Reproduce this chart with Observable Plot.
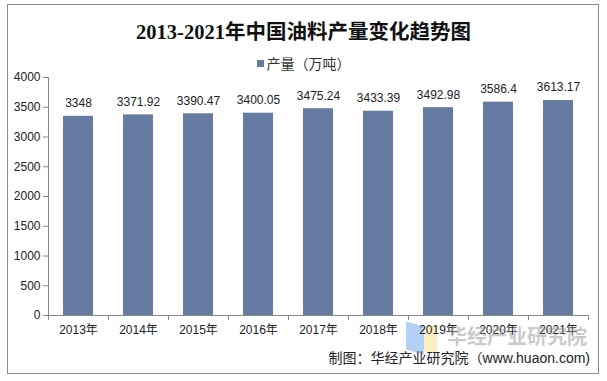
<!DOCTYPE html>
<html><head><meta charset="utf-8">
<script src="https://cdn.jsdelivr.net/npm/d3@7"></script>
<script src="https://cdn.jsdelivr.net/npm/@observablehq/plot@0.6"></script>
<style>
body{margin:0;background:#fff;}
#wrap{position:relative;width:607px;height:381px;overflow:hidden;font-family:"Liberation Sans","Noto Sans CJK SC",sans-serif;}
#border{position:absolute;left:7px;top:4px;width:592px;height:370px;border:1px solid #8c8c8c;box-sizing:border-box;}
#title{position:absolute;left:0;width:607px;top:15px;text-align:center;font-family:"Liberation Serif","Noto Sans CJK SC",serif;font-size:20.5px;font-weight:bold;color:#111;}
#legend{position:absolute;left:0;width:607px;top:53px;text-align:center;font-size:14px;color:#333;}
#legend span.sw{display:inline-block;width:7px;height:7px;background:#667ba1;margin-right:3px;vertical-align:2px;}
#plot{position:absolute;left:0;top:0;}
#wm{position:absolute;left:447px;top:321px;font-size:20px;font-weight:bold;color:rgba(150,150,150,0.5);font-family:"Noto Sans CJK SC",sans-serif;}
#logo1{position:absolute;left:406px;top:324px;width:18px;height:28px;background:rgba(120,170,240,0.55);transform:skewY(15deg);}
#logo2{position:absolute;left:424px;top:326px;width:13px;height:26px;background:rgba(250,230,150,0.6);}
#src{position:absolute;right:17px;top:347px;font-size:14px;color:#222;}
</style></head>
<body><div id="wrap">
<div id="border"></div>
<div id="logo1"></div><div id="logo2"></div>
<div id="title">2013-2021年中国油料产量变化趋势图</div>
<div id="legend"><span class="sw"></span>产量（万吨）</div>
<div id="plot"></div>
<div id="wm">华经产业研究院</div>
<div id="src">制图：华经产业研究院（www.huaon.com)</div>
</div>
<script>
const years = ["2013年","2014年","2015年","2016年","2017年","2018年","2019年","2020年","2021年"];
const output = [3348, 3371.92, 3390.47, 3400.05, 3475.24, 3433.39, 3492.98, 3586.4, 3613.17];
const outputLabels = ["3348","3371.92","3390.47","3400.05","3475.24","3433.39","3492.98","3586.4","3613.17"];
const yTicks = [0,500,1000,1500,2000,2500,3000,3500,4000];

const data = years.map((y,i)=>({year:y, value:output[i], label:outputLabels[i]}));
const lastYear = years[years.length-1];

const chart = Plot.plot({
  width: 607, height: 381,
  marginLeft: 48, marginRight: 19, marginTop: 77, marginBottom: 66,
  style: {fontFamily: '"Liberation Sans","Noto Sans CJK SC",sans-serif', fontSize: "12px", color: "#222", background: "transparent"},
  x: {type: "band", domain: years, paddingInner: 0.5, paddingOuter: 0.25, label: null},
  y: {domain: [0, 4000], label: null},
  marks: [
    Plot.barY(data, {x: "year", y: "value", fill: "#667ba1"}),
    Plot.text(data, {x: "year", y: "value", text: "label", dy: -13, fill: "#222", fontSize: 12}),
    Plot.frame({anchor: "left", stroke: "#888"}),
    Plot.frame({anchor: "bottom", stroke: "#888"}),
    Plot.axisY({ticks: yTicks, tickFormat: d => String(d), tickSize: 5, tickPadding: 3, stroke: "#888", fill: "#222", fontSize: 12, label: null}),
    Plot.axisX({tickSize: 0, tickPadding: 10, fill: "#222", fontSize: 12, label: null}),
    Plot.ruleX(years, {x: d => d, y1: 0, y2: 0, insetBottom: -5, dx: -30, stroke: "#888"}),
    Plot.ruleX([lastYear], {x: d => d, y1: 0, y2: 0, insetBottom: -5, dx: 30, stroke: "#888"})
  ]
});
document.getElementById("plot").appendChild(chart);
</script>
</body></html>
